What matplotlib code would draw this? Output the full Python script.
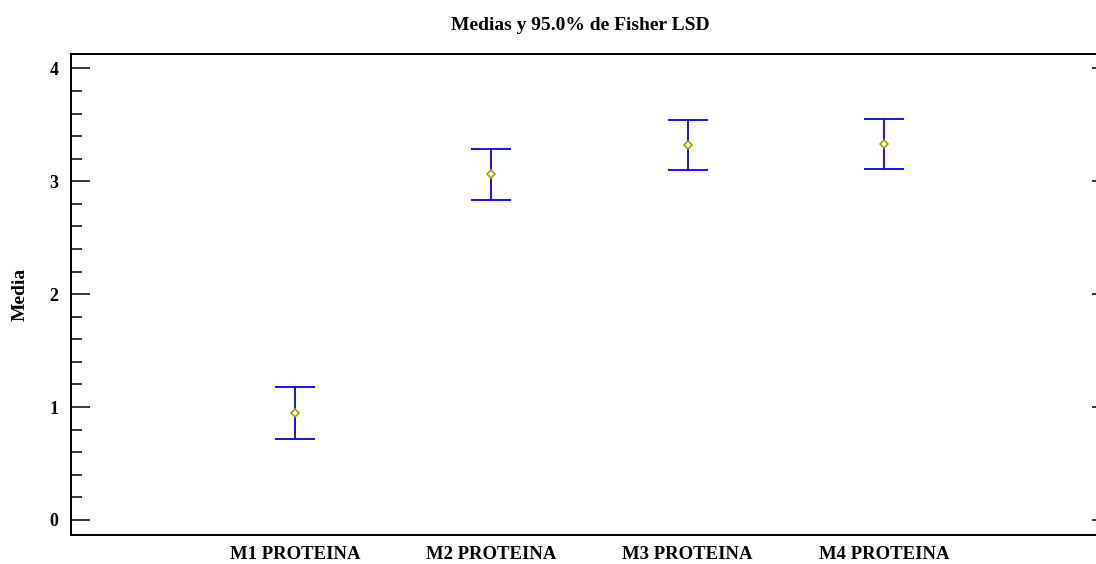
import matplotlib.pyplot as plt
from matplotlib.ticker import MultipleLocator

# medias y semiancho del intervalo LSD (95%)
grupos = ["M1 PROTEINA", "M2 PROTEINA", "M3 PROTEINA", "M4 PROTEINA"]
medias = [0.95, 3.06, 3.32, 3.33]
semiancho = [0.23, 0.23, 0.222, 0.225]

plt.rcParams['font.family'] = ['Liberation Serif', 'DejaVu Serif']
plt.rcParams['font.weight'] = 'bold'

fig = plt.figure(figsize=(10.96, 5.64), dpi=100)
ax = fig.add_axes([71 / 1096, 29 / 564, 1030 / 1096, 481 / 564])

x = list(range(1, len(grupos) + 1))
ax.errorbar(x, medias, yerr=semiancho, fmt='none', ecolor='#0000ff',
            elinewidth=1.3, capsize=14.4, capthick=1.3, zorder=2)
ax.plot(x, medias, linestyle='none', marker='D', markersize=4.5,
        markerfacecolor='#ffffc0', markeredgecolor='#9a9a00',
        markeredgewidth=1.1, zorder=3)

ax.set_xlim(1 - 224 / 196, 4 + 217 / 196)
ax.set_ylim(-0.133, 4.127)
ax.set_xticks(x)
ax.set_xticklabels(grupos, fontsize=13.5, fontweight='bold')
ax.tick_params(axis='x', length=0, pad=8)

ax.yaxis.set_major_locator(MultipleLocator(1))
ax.yaxis.set_minor_locator(MultipleLocator(0.2))
ax.tick_params(axis='y', which='major', direction='in', length=14,
               width=1.1, labelsize=13, pad=9)
ax.tick_params(axis='y', which='minor', direction='in', length=8, width=1.1)
for lbl in ax.get_yticklabels():
    lbl.set_fontweight('bold')

# marcas cortas en el eje derecho
ax2 = ax.twinx()
ax2.set_ylim(ax.get_ylim())
ax2.yaxis.set_major_locator(MultipleLocator(1))
ax2.tick_params(axis='y', direction='in', length=6.5, width=1.1,
                labelright=False)

for a in (ax, ax2):
    for sp in a.spines.values():
        sp.set_linewidth(1.3)

# etiqueta del eje y y titulo
fig.text(20 / 1096, 1 - 294.5 / 564, "Media", rotation=90,
         ha='center', va='center', fontsize=14, fontweight='bold')
fig.text(580 / 1096, 1 - 26 / 564, "Medias y 95.0% de Fisher LSD",
         ha='center', va='center', fontsize=14, fontweight='bold')

fig.savefig("out.png", dpi=100, facecolor='white')
